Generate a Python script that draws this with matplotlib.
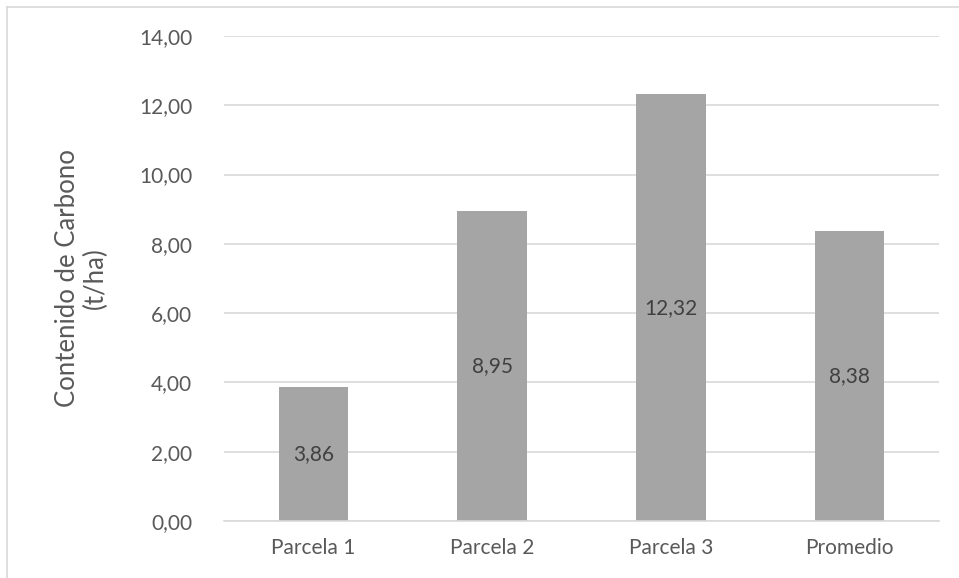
import matplotlib.pyplot as plt
from matplotlib.lines import Line2D

parcelas = ['Parcela 1', 'Parcela 2', 'Parcela 3', 'Promedio']
carbono = [3.86, 8.95, 12.32, 8.38]
y_ticks = [0, 2, 4, 6, 8, 10, 12, 14]

gris_barra = '#A5A5A5'
gris_texto = '#595959'
gris_grilla = '#D9D9D9'

plt.rcParams['font.family'] = ['Lato', 'DejaVu Sans']

fig = plt.figure(figsize=(9.59, 5.78), dpi=100)
ax = fig.add_axes([224 / 959, 1 - 521 / 578, (939 - 224) / 959, (521 - 36) / 578])

x = range(len(parcelas))
barras = ax.bar(x, carbono, width=0.39, color=gris_barra, zorder=2)

for b, v in zip(barras, carbono):
    ax.text(b.get_x() + b.get_width() / 2, v / 2, f'{v:.2f}'.replace('.', ','),
            ha='center', va='center', fontsize=15, color='#404040', zorder=3)

ax.set_xlim(-0.5, len(parcelas) - 0.5)
ax.set_ylim(0, 14)
ax.set_yticks(y_ticks)
ax.set_yticklabels([f'{t:.2f}'.replace('.', ',') for t in y_ticks])
ax.set_xticks(list(x))
ax.set_xticklabels(parcelas)
ax.tick_params(axis='both', length=0, labelsize=15, labelcolor=gris_texto)
ax.tick_params(axis='y', pad=23)
ax.tick_params(axis='x', pad=12)

ax.yaxis.grid(True, color=gris_grilla, linewidth=1.2, zorder=0)
for lado in ['top', 'right', 'left']:
    ax.spines[lado].set_visible(False)
ax.spines['bottom'].set_color(gris_grilla)
ax.spines['bottom'].set_linewidth(1.2)

ax.set_ylabel('Contenido de Carbono\n(t/ha)', fontsize=18.5, color=gris_texto, labelpad=22,
              linespacing=1.15)

# marco del área del gráfico (solo bordes izquierdo y superior)
fig.add_artist(Line2D([7 / 959, 7 / 959], [0, 1 - 7 / 578], transform=fig.transFigure,
                      color='#D9D9D9', linewidth=1.2))
fig.add_artist(Line2D([7 / 959, 1], [1 - 7 / 578, 1 - 7 / 578], transform=fig.transFigure,
                      color='#D9D9D9', linewidth=1.2))

fig.savefig('out.png', dpi=100)
